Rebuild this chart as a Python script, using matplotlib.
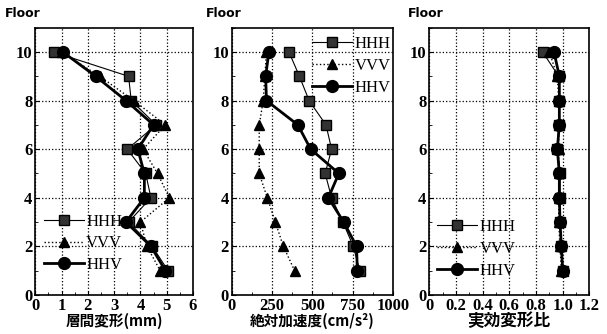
import numpy as np
import matplotlib.pyplot as plt
from matplotlib.ticker import MultipleLocator

plt.rcParams['font.family'] = ['Liberation Serif', 'DejaVu Serif']

floors = [10, 9, 8, 7, 6, 5, 4, 3, 2, 1]

# 層間変形 (mm)
drift_hhh = [0.70, 3.55, 3.65, 4.60, 3.50, 4.20, 4.40, 3.55, 4.45, 5.05]
drift_vvv = [1.00, 2.45, 3.75, 4.95, 4.10, 4.65, 5.10, 4.00, 4.25, 4.75]
drift_hhv = [1.05, 2.30, 3.45, 4.50, 3.90, 4.15, 4.15, 3.45, 4.40, 4.95]

# 絶対加速度 (cm/s2)
acc_hhh = [355, 420, 480, 585, 620, 580, 620, 690, 755, 795]
acc_vvv = [215, 205, 195, 170, 170, 170, 220, 270, 320, 390]
acc_hhv = [230, 210, 215, 410, 490, 665, 600, 695, 775, 780]

# 実効変形比
ratio_hhh = [0.85, 0.97, 0.97, 0.97, 0.96, 0.98, 0.98, 0.98, 0.99, 1.00]
ratio_vvv = [0.90, 0.96, 0.97, 0.97, 0.97, 0.97, 0.97, 0.97, 0.98, 0.99]
ratio_hhv = [0.935, 0.975, 0.975, 0.975, 0.96, 0.975, 0.975, 0.98, 0.99, 1.00]

xlabels = ['層間変形(mm)', '絶対加速度(cm/s²)', '実効変形比']
series = [
    (drift_hhh, drift_vvv, drift_hhv),
    (acc_hhh, acc_vvv, acc_hhv),
    (ratio_hhh, ratio_vvv, ratio_hhv),
]
xlims = [(0, 6), (0, 1000), (0, 1.2)]
xmajor = [1, 250, 0.2]
xminor = [0.5, 125, 0.1]
legend_loc = ['lower left', 'upper right', 'lower left']
legend_anchor = [(0.0, 0.05), (1.04, 1.0), (0.0, 0.03)]
floor_x = [-0.08, -0.05, -0.02]
label_size = [10.5, 10.5, 12]

fig = plt.figure(figsize=(6.07, 3.34), dpi=100)
lefts = [0.058, 0.382, 0.707]
widths = [0.260, 0.265, 0.264]

for i in range(3):
    ax = fig.add_axes([lefts[i], 0.117, widths[i], 0.80])
    hhh, vvv, hhv = series[i]
    ax.plot(hhh, floors, '-', color='black', lw=0.8, marker='s', ms=7,
            mfc='#333333', mec='black', label='HHH')
    ax.plot(vvv, floors, ':', color='black', lw=1.0, marker='^', ms=7.5,
            mfc='black', mec='black', label='VVV')
    ax.plot(hhv, floors, '-', color='black', lw=2.0, marker='o', ms=8.5,
            mfc='black', mec='black', label='HHV')
    ax.set_xlim(*xlims[i])
    ax.set_ylim(0, 11)
    ax.xaxis.set_major_locator(MultipleLocator(xmajor[i]))
    ax.xaxis.set_minor_locator(MultipleLocator(xminor[i]))
    ax.yaxis.set_major_locator(MultipleLocator(2))
    ax.yaxis.set_minor_locator(MultipleLocator(1))
    ax.tick_params(which='both', direction='in', labelsize=12,
                   labelfontfamily='Liberation Serif')
    ax.tick_params(which='major', length=3, pad=2)
    ax.tick_params(which='minor', length=2)
    if i == 2:
        ax.set_xticks([0, 0.2, 0.4, 0.6, 0.8, 1.0, 1.2])
        ax.set_xticklabels(['0', '0.2', '0.4', '0.6', '0.8', '1.0', '1.2'])
    for lab in ax.get_xticklabels() + ax.get_yticklabels():
        lab.set_fontweight('bold')
    ax.grid(True, which='major', color='black', linestyle=':', lw=0.9)
    for sp in ax.spines.values():
        sp.set_linewidth(1.2)
    ax.set_xlabel(xlabels[i], family=['Noto Sans CJK JP', 'DejaVu Sans'],
                  fontsize=label_size[i], fontweight='bold', labelpad=-1)
    ax.text(floor_x[i], 1.03, 'Floor', transform=ax.transAxes, ha='center',
            va='bottom', family='DejaVu Sans', fontsize=9, fontweight='bold')
    ax.legend(loc=legend_loc[i], bbox_to_anchor=legend_anchor[i],
              frameon=False, fontsize=12, handlelength=2.4,
              handletextpad=0.15, labelspacing=0.35, borderaxespad=0.1)

fig.savefig('out.png', dpi=100)
